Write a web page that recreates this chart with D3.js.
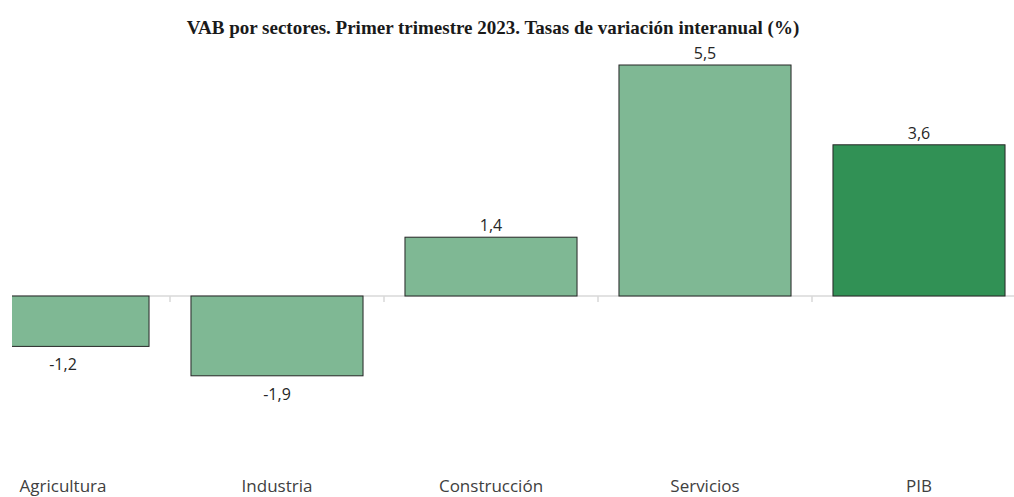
<!DOCTYPE html>
<html>
<head>
<meta charset="utf-8">
<script src="https://cdn.jsdelivr.net/npm/d3@7"></script>
<style>
  body { margin: 0; background: #fff; }
  svg { display: block; }
</style>
</head>
<body>
<div id="chart"></div>
<script>
var sectors = ["Agricultura", "Industria", "Construcción", "Servicios", "PIB"];
var values = [-1.2, -1.9, 1.4, 5.5, 3.6];
var barColors = ["#7fb894", "#7fb894", "#7fb894", "#7fb894", "#319155"];
var title = "VAB por sectores. Primer trimestre 2023. Tasas de variación interanual (%)";

var width = 1014, height = 497;
var plotLeft = 12;

var svg = d3.select('#chart')
  .append('svg')
  .attr('width', width)
  .attr('height', height);

svg.append('defs').append('clipPath')
  .attr('id', 'plotclip')
  .append('rect')
  .attr('x', plotLeft).attr('y', 0)
  .attr('width', width - plotLeft).attr('height', height);

/* band scale - first category is partly cut by the left edge, like the original */
var x = d3.scaleBand()
  .domain(sectors)
  .range([-44, 1026])
  .paddingInner(0.196)
  .paddingOuter(0.098);

/* 42 px per percentage point, zero line at y=296 */
var y = d3.scaleLinear()
  .domain([-4, 6])
  .range([464, 44]);

svg.append('text')
  .attr('x', 493)
  .attr('y', 34)
  .attr('text-anchor', 'middle')
  .attr('font-family', '"Liberation Serif", "DejaVu Serif", serif')
  .attr('font-weight', 'bold')
  .attr('font-size', '19px')
  .attr('fill', '#1a1a1a')
  .text(title);

var plot = svg.append('g').attr('clip-path', 'url(#plotclip)');

// zero axis line with tick marks between categories
plot.append('line')
  .attr('x1', plotLeft).attr('x2', width)
  .attr('y1', y(0)).attr('y2', y(0))
  .attr('stroke', '#d9d9d9')
  .attr('stroke-width', 1.5);

var step = x.step();
plot.selectAll('.tick')
  .data(sectors.slice(1))
  .enter().append('line')
  .attr('class', 'tick')
  .attr('x1', function(d) { return x(d) - step * x.paddingInner() / 2; })
  .attr('x2', function(d) { return x(d) - step * x.paddingInner() / 2; })
  .attr('y1', y(0)).attr('y2', y(0) + 6)
  .attr('stroke', '#d9d9d9')
  .attr('stroke-width', 1.5);

plot.selectAll('.bar')
  .data(values)
  .enter().append('rect')
  .attr('class', 'bar')
  .attr('x', function(d, i) { return x(sectors[i]); })
  .attr('width', x.bandwidth())
  .attr('y', function(d) { return d >= 0 ? y(d) : y(0); })
  .attr('height', function(d) { return Math.abs(y(d) - y(0)); })
  .attr('fill', function(d, i) { return barColors[i]; })
  .attr('stroke', '#262626')
  .attr('stroke-width', 1);

var fmt = function(v) { return d3.format('.1f')(v).replace('.', ',').replace('−', '-'); };

svg.selectAll('.val')
  .data(values)
  .enter().append('text')
  .attr('class', 'val')
  .attr('x', function(d, i) { return x(sectors[i]) + x.bandwidth() / 2; })
  .attr('y', function(d) { return d >= 0 ? y(d) - 6 : y(d) + 24; })
  .attr('text-anchor', 'middle')
  .attr('font-family', '"Open Sans", "Noto Sans", sans-serif')
  .attr('font-size', '16px')
  .attr('fill', '#262626')
  .text(fmt);

svg.selectAll('.cat')
  .data(sectors)
  .enter().append('text')
  .attr('class', 'cat')
  .attr('x', function(d) { return x(d) + x.bandwidth() / 2; })
  .attr('y', 492)
  .attr('text-anchor', 'middle')
  .attr('font-family', '"Open Sans", "Noto Sans", sans-serif')
  .attr('font-size', '17px')
  .attr('fill', '#404040')
  .text(function(d) { return d; });
</script>
</body>
</html>
